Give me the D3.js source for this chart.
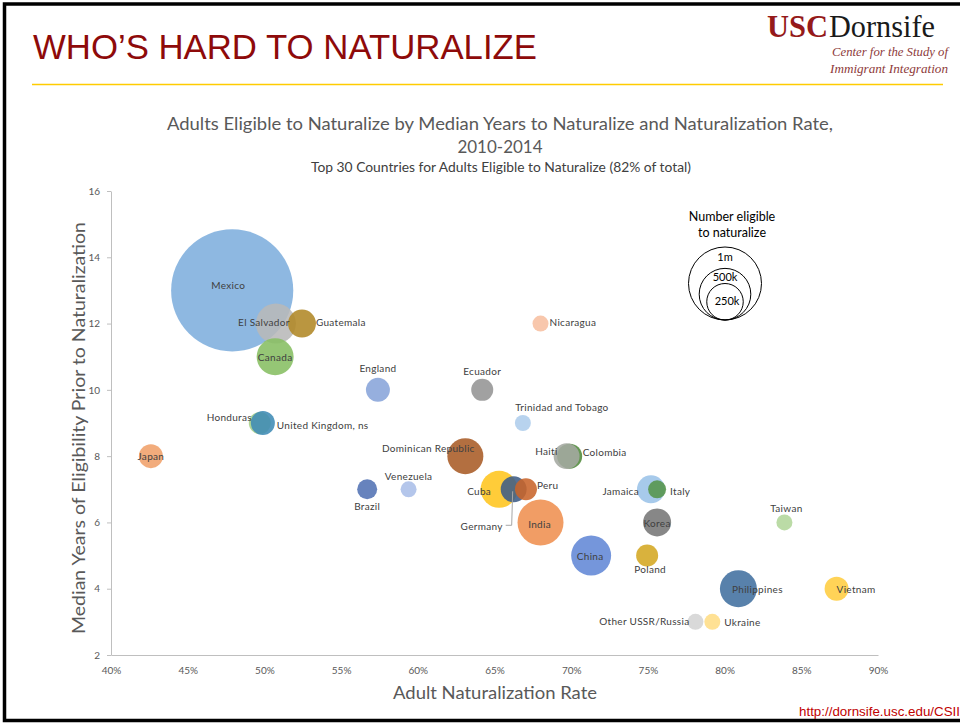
<!DOCTYPE html>
<html><head><meta charset="utf-8">
<script src="https://cdn.jsdelivr.net/npm/d3@7"></script>
<style>body{margin:0;background:#fff;overflow:hidden} svg{display:block}</style>
</head><body><svg id="c" width="960" height="723"></svg>
<script>
// ---------- data ----------
const countries = ["Mexico","El Salvador","Guatemala","Canada","England","Honduras","United Kingdom, ns","Japan","Ecuador","Nicaragua","Trinidad and Tobago","Dominican Republic","Colombia","Haiti","Venezuela","Brazil","Cuba","Germany","Peru","India","China","Jamaica","Italy","Korea","Poland","Taiwan","Philippines","Vietnam","Other USSR/Russia","Ukraine"];
const natRate = [47.9,50.75,52.45,50.7,57.4,49.7,49.9,42.6,64.2,68.0,66.85,63.1,69.9,69.7,59.4,56.7,65.3,66.25,67.05,68.0,71.3,75.2,75.6,75.6,74.95,83.9,80.9,87.3,78.1,79.2];
const medianYears = [13,12,12,11,10,9,9,8,10,12,9,8,8,8,7,7,7,7,7,6,5,7,7,6,5,6,4,4,3,3];
const eligibleK = [2800,300,147,257,108,91,108,108,91,48,48,243,117,126,48,75,257,126,91,397,300,147,61,147,91,48,257,108,48,48];
const colors = ["#7EAEDD","#B8B8B8","#B08726","#86BE62","#88A4DA","#A6CF86","#3F8BB5","#F0A06A","#949494","#F7BFA0","#AECDEC","#A85B25","#4F8A3A","#A4A8A0","#AABEE8","#5272B4","#FFC51E","#3E5C86","#C8642A","#EF9050","#6288D6","#9BC3E8","#55944A","#767676","#D4A722","#B2D69A","#41709F","#FFCD40","#D4D4D4","#FFDD85"];
const xTicks = [40,45,50,55,60,65,70,75,80,85,90];
const yTicks = [2,4,6,8,10,12,14,16];
const legendK = [1000,500,250];
const legendLabels = ["1m","500k","250k"];

// label layout: [anchor, dx, dy] relative to bubble centre
const labelLayout = {
  "Mexico":["middle",-4,-5],"El Salvador":["middle",-12,-1],"Guatemala":["start",14,-1],
  "Canada":["middle",0,1],"England":["middle",0,-21],"Honduras":["end",-8,-6],
  "United Kingdom, ns":["start",14,2],"Japan":["middle",0,0],"Ecuador":["middle",0,-18],
  "Nicaragua":["start",9,-1],"Trinidad and Tobago":["middle",39,-16],"Dominican Republic":["middle",-37,-8],
  "Colombia":["start",13,-4],"Haiti":["end",-9,-5],"Venezuela":["middle",0,-13],
  "Brazil":["middle",0,17],"Cuba":["end",-8,2],"Germany":["end",-11,37],"Peru":["start",11,-4],
  "India":["middle",-1,2],"China":["middle",-1,1],"Jamaica":["end",-12,2],"Italy":["start",13,2],
  "Korea":["middle",0,1],"Poland":["middle",3,14],"Taiwan":["middle",2,-14],
  "Philippines":["middle",19,1],"Vietnam":["start",0,1],"Other USSR/Russia":["end",-6,0],"Ukraine":["start",12,1]
};

const svg = d3.select("#c");
const CAL = "Lato, 'Open Sans', sans-serif";
const NARROW = "'Liberation Sans Narrow','Arial Narrow','Liberation Sans',sans-serif";

// ---------- frame / header ----------
svg.append("path").attr("d","M960,4 H4.5 V720.5 H960").attr("fill","none").attr("stroke","#000").attr("stroke-width",3.5);
svg.append("line").attr("x1",32).attr("x2",943).attr("y1",84.5).attr("y2",84.5).attr("stroke","#FFCC00").attr("stroke-width",1.5);
svg.append("text").attr("x",33).attr("y",59).attr("font-family",NARROW).attr("font-size",35)
  .attr("fill","#8E0A0A").attr("textLength",504).attr("lengthAdjust","spacingAndGlyphs").text("WHO\u2019S HARD TO NATURALIZE");
// logo
svg.append("text").attr("x",767).attr("y",37).attr("font-family","'Liberation Serif','DejaVu Serif',serif").attr("font-size",31).attr("font-weight","bold")
  .attr("fill","#951A1A").attr("textLength",61).attr("lengthAdjust","spacingAndGlyphs").text("USC");
svg.append("text").attr("x",829).attr("y",37).attr("font-family","'Liberation Serif','DejaVu Serif',serif").attr("font-size",31)
  .attr("fill","#1a1a1a").attr("textLength",106).attr("lengthAdjust","spacingAndGlyphs").text("Dornsife");
svg.append("text").attr("x",948).attr("y",56).attr("text-anchor","end").attr("font-family","'Liberation Serif','DejaVu Serif',serif").attr("font-size",13.5).attr("font-style","italic")
  .attr("fill","#8E3B3B").attr("textLength",116).attr("lengthAdjust","spacingAndGlyphs").text("Center for the Study of");
svg.append("text").attr("x",948).attr("y",73).attr("text-anchor","end").attr("font-family","'Liberation Serif','DejaVu Serif',serif").attr("font-size",13.5).attr("font-style","italic")
  .attr("fill","#8E3B3B").attr("textLength",118).attr("lengthAdjust","spacingAndGlyphs").text("Immigrant Integration");

// ---------- chart titles ----------
svg.append("text").attr("x",500).attr("y",130).attr("text-anchor","middle").attr("font-family",CAL).attr("font-size",17)
  .attr("fill","#595959").attr("textLength",666).attr("lengthAdjust","spacingAndGlyphs")
  .text("Adults Eligible to Naturalize by Median Years to Naturalize and Naturalization Rate,");
svg.append("text").attr("x",500).attr("y",153).attr("text-anchor","middle").attr("font-family",CAL).attr("font-size",17)
  .attr("fill","#595959").text("2010-2014");
svg.append("text").attr("x",501).attr("y",172).attr("text-anchor","middle").attr("font-family",CAL).attr("font-size",12.5)
  .attr("fill","#404040").attr("textLength",380).attr("lengthAdjust","spacingAndGlyphs")
  .text("Top 30 Countries for Adults Eligible to Naturalize (82% of total)");

// ---------- scales ----------
const x = d3.scaleLinear().domain([40,90]).range([111,878]);
const y = d3.scaleLinear().domain([2,16]).range([655,191]);
const r = d3.scaleSqrt().domain([0,1000]).range([0,36.5]);

// axes
const gx = svg.append("g").attr("transform","translate(0,655)")
  .call(d3.axisBottom(x).tickValues(xTicks).tickSize(0).tickSizeOuter(0).tickPadding(12).tickFormat(d=>d+"%"));
const gy = svg.append("g").attr("transform","translate(111,0)")
  .call(d3.axisLeft(y).tickValues(yTicks).tickSize(4).tickSizeOuter(0).tickPadding(7));
[gx,gy].forEach(g=>{
  g.select(".domain").attr("stroke","#BFBFBF");
  g.selectAll(".tick line").attr("stroke","#BFBFBF");
  g.selectAll(".tick text").attr("fill","#595959").attr("font-family",CAL).attr("font-size",10);
});

svg.append("text").attr("x",495).attr("y",699).attr("text-anchor","middle").attr("font-family",CAL).attr("font-size",18)
  .attr("fill","#595959").attr("textLength",204).attr("lengthAdjust","spacingAndGlyphs").text("Adult Naturalization Rate");
svg.append("text").attr("transform","translate(85,428) rotate(-90)").attr("text-anchor","middle").attr("font-family",CAL).attr("font-size",18)
  .attr("fill","#595959").attr("textLength",412).attr("lengthAdjust","spacingAndGlyphs").text("Median Years of Eligibility Prior to Naturalization");

// ---------- bubbles ----------
const data = countries.map((c,i)=>({name:c, rate:natRate[i], yrs:medianYears[i], k:eligibleK[i], color:colors[i]}));
svg.append("g").selectAll("circle").data(data).join("circle")
  .attr("cx",d=>x(d.rate)).attr("cy",d=>y(d.yrs)).attr("r",d=>r(d.k))
  .attr("fill",d=>d.color).attr("fill-opacity",0.88);

// Germany leader line
const ger = data.find(d=>d.name==="Germany");
const gxp = x(ger.rate), gyp = y(ger.yrs);
svg.append("path").attr("d",`M${gxp-1},${gyp+2} L${gxp-2},${gyp+36} L${gxp-8},${gyp+36}`)
  .attr("fill","none").attr("stroke","#A6A6A6").attr("stroke-width",1);

svg.append("g").selectAll("text").data(data).join("text")
  .attr("x",d=>x(d.rate)+labelLayout[d.name][1])
  .attr("y",d=>y(d.yrs)+labelLayout[d.name][2])
  .attr("dy","0.35em")
  .attr("text-anchor",d=>labelLayout[d.name][0])
  .attr("font-family",CAL).attr("font-size",10).attr("fill","#404040")
  .attr("letter-spacing",0.3)
  .text(d=>d.name);

// ---------- size legend ----------
const lgX = 725, lgBottom = 320;
svg.append("text").attr("x",732).attr("y",221).attr("text-anchor","middle").attr("font-family",CAL).attr("font-size",12.5).attr("fill","#000").text("Number eligible");
svg.append("text").attr("x",732).attr("y",237).attr("text-anchor","middle").attr("font-family",CAL).attr("font-size",12.5).attr("fill","#000").text("to naturalize");
svg.append("g").selectAll("circle").data(legendK).join("circle")
  .attr("cx",lgX).attr("cy",d=>lgBottom-r(d)).attr("r",d=>r(d))
  .attr("fill","none").attr("stroke","#000").attr("stroke-width",1);
const lblY = [261,281,305];
svg.append("g").selectAll("text").data(legendLabels).join("text")
  .attr("x",(d,i)=>i===2?727:725).attr("y",(d,i)=>lblY[i]).attr("text-anchor","middle")
  .attr("font-family",CAL).attr("font-size",11).attr("fill","#000").text(d=>d);

// footer url
svg.append("text").attr("x",960).attr("y",716).attr("text-anchor","end").attr("font-family",NARROW).attr("font-size",12.5)
  .attr("fill","#C00000").attr("textLength",161).attr("lengthAdjust","spacingAndGlyphs").text("http://dornsife.usc.edu/CSII");
</script></body></html>
